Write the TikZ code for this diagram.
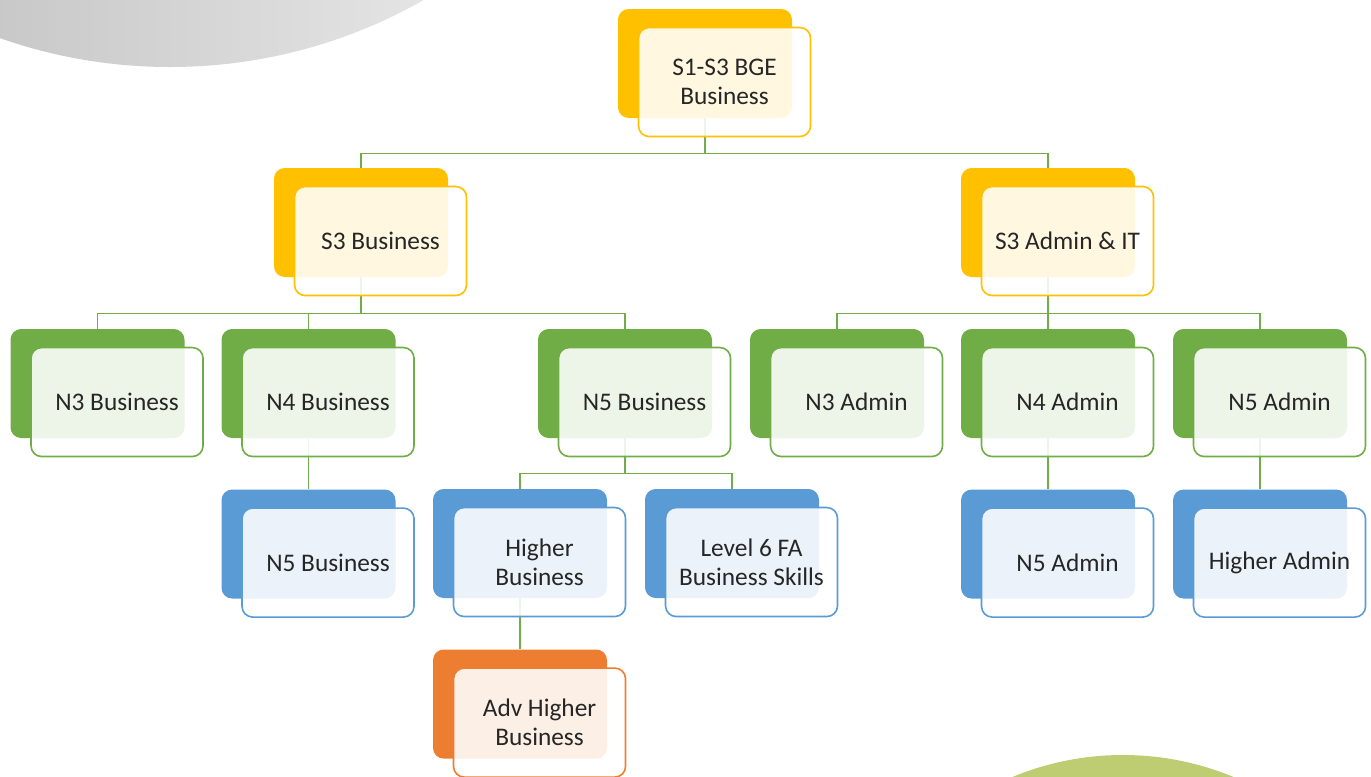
\documentclass[tikz,border=0pt]{standalone}
\usepackage{fontspec}
\setmainfont{Carlito}
\usepackage{xcolor}
\usetikzlibrary{positioning,backgrounds}
\definecolor{gold}{HTML}{FFC000}
\definecolor{leaf}{HTML}{70AD47}
\definecolor{sky}{HTML}{5B9BD5}
\definecolor{rust}{HTML}{ED7D31}
\definecolor{olivedisc}{HTML}{BFCD72}
\definecolor{txt}{HTML}{262626}

\begin{document}
\begin{tikzpicture}[
  x=0.75pt, y=-0.75pt,
  node distance=38.25pt,
  back/.style={
    rounded corners=8pt,
    minimum width=130.5pt,
    minimum height=81.75pt,
    inner sep=0pt
  },
  front/.style={
    draw,
    line width=1.2pt,
    fill=white,
    fill opacity=0.88,
    text opacity=1,
    rounded corners=8pt,
    minimum width=129pt,
    minimum height=81.75pt,
    inner sep=0pt,
    anchor=north west,
    align=center,
    text=txt,
    font=\fontsize{19}{21.5}\selectfont
  },
  link/.style={draw=leaf, line width=1.1pt}
]
\useasboundingbox (0,0) rectangle (1371,776);
\begin{scope}
  \clip (0,0) rectangle (1371,776);
  \shade[left color={rgb,255:red,178;green,178;blue,178}, right color={rgb,255:red,245;green,245;blue,245}] (170,-446) circle (513);
  \fill[olivedisc] (1123,1043) circle (288);
\end{scope}

\begin{scope}[every node/.append style={back}]
  \node[fill=gold] (root) at (705,63.5) {};
  \node[fill=gold] (s3bus) at (361,222.5) {};
  \node[fill=gold] (s3adm) at (1048,222.5) {};
  \node[fill=leaf] (n3bus) at (97.5,383.5) {};
  \node[fill=leaf] (n4bus) at (308.5,383.5) {};
  \node[fill=leaf] (n5bus) at (625,383.5) {};
  \node[fill=leaf] (n3adm) at (837,383.5) {};
  \node[fill=leaf] (n4adm) at (1048,383.5) {};
  \node[fill=leaf] (n5adm) at (1260,383.5) {};
  \node[fill=sky, below=of n4bus] (n5busb) {};
  \node[fill=sky] (hbus) at (520,543.5) {};
  \node[fill=sky] (fabus) at (732,543.5) {};
  \node[fill=sky, below=of n4adm] (n5admb) {};
  \node[fill=sky, below=of n5adm] (hadm) {};
  \node[fill=rust, below=of hbus] (ahbus) {};
\end{scope}

\begin{scope}[every node/.append style={front}]
  \node[draw=gold] (root-f) at ([shift={(20,18)}]root.north west) {S1-S3 BGE\\Business};
  \node[draw=gold] (s3bus-f) at ([shift={(20,18)}]s3bus.north west) {S3 Business};
  \node[draw=gold] (s3adm-f) at ([shift={(20,18)}]s3adm.north west) {S3 Admin \& IT};
  \node[draw=leaf] (n3bus-f) at ([shift={(20,18)}]n3bus.north west) {N3 Business};
  \node[draw=leaf] (n4bus-f) at ([shift={(20,18)}]n4bus.north west) {N4 Business};
  \node[draw=leaf] (n5bus-f) at ([shift={(20,18)}]n5bus.north west) {N5 Business};
  \node[draw=leaf] (n3adm-f) at ([shift={(20,18)}]n3adm.north west) {N3 Admin};
  \node[draw=leaf] (n4adm-f) at ([shift={(20,18)}]n4adm.north west) {N4 Admin};
  \node[draw=leaf] (n5adm-f) at ([shift={(20,18)}]n5adm.north west) {N5 Admin};
  \node[draw=sky] (n5busb-f) at ([shift={(20,18)}]n5busb.north west) {N5 Business};
  \node[draw=sky] (hbus-f) at ([shift={(20,18)}]hbus.north west) {Higher\\Business};
  \node[draw=sky] (fabus-f) at ([shift={(20,18)}]fabus.north west) {Level 6 FA\\Business Skills};
  \node[draw=sky] (n5admb-f) at ([shift={(20,18)}]n5admb.north west) {N5 Admin};
  \node[draw=sky] (hadm-f) at ([shift={(20,18)}]hadm.north west) {Higher Admin};
  \node[draw=rust] (ahbus-f) at ([shift={(20,18)}]ahbus.north west) {Adv Higher\\Business};
\end{scope}

\begin{scope}[on background layer]
  \draw[link] (root.south) -- ++(0,35) -| (s3bus.north);
  \draw[link] (root.south) -- ++(0,35) -| (s3adm.north);
  \draw[link] (s3bus.south) -- ++(0,36) -| (n3bus.north);
  \draw[link] (s3bus.south) -- ++(0,36) -| (n4bus.north);
  \draw[link] (s3bus.south) -- ++(0,36) -| (n5bus.north);
  \draw[link] (s3adm.south) -- ++(0,36) -| (n3adm.north);
  \draw[link] (s3adm.south) -- ++(0,36) -| (n4adm.north);
  \draw[link] (s3adm.south) -- ++(0,36) -| (n5adm.north);
  \draw[link] (n4bus) -- (n5busb);
  \draw[link] (n5bus.south) -- ++(0,35) -| (hbus.north);
  \draw[link] (n5bus.south) -- ++(0,35) -| (fabus.north);
  \draw[link] (n4adm) -- (n5admb);
  \draw[link] (n5adm) -- (hadm);
  \draw[link] (hbus) -- (ahbus);
\end{scope}
\end{tikzpicture}
\end{document}
